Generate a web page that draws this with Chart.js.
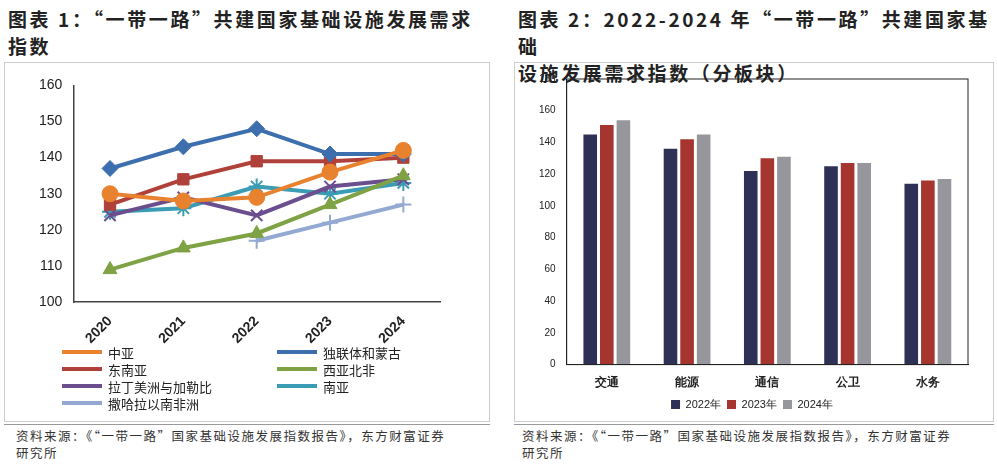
<!DOCTYPE html>
<html><head><meta charset="utf-8">
<script src="https://cdn.jsdelivr.net/npm/chart.js@4"></script>
<style>
body{margin:0;width:997px;height:464px;background:#fff;font-family:"Noto Sans CJK SC",sans-serif;position:relative;overflow:hidden}
.t{position:absolute;font-weight:bold;font-size:19px;line-height:27px;color:#222;letter-spacing:2.6px}
.src{position:absolute;font-size:12.5px;line-height:17px;color:#333;letter-spacing:1.5px}
.box{position:absolute;border:1px solid #ccc}
.hr{position:absolute;height:1px;background:#999}
#lg{position:absolute;left:62px;top:344px;width:420px;font-size:13px;color:#222}
#lg div{position:absolute;height:18px;line-height:18px;white-space:nowrap}
#lg span{display:inline-block;width:40px;height:4px;vertical-align:middle;margin-right:6px;position:relative;top:-2px}
</style></head><body>
<div class="t" style="left:8px;top:5px">图表 1：“一带一路”共建国家基础设施发展需求<br>指数</div>
<div class="t" style="left:518px;top:5px">图表 2：2022-2024 年“一带一路”共建国家基础<br>设施发展需求指数（分板块）</div>
<div class="box" style="left:4px;top:62px;width:484px;height:358px"></div>
<div class="box" style="left:514px;top:62px;width:478px;height:358px"></div>
<div class="hr" style="left:4px;top:424px;width:486px"></div>
<div class="hr" style="left:514px;top:424px;width:480px"></div>
<div class="src" style="left:16px;top:427px">资料来源：《“一带一路”国家基础设施发展指数报告》，东方财富证券<br>研究所</div>
<div class="src" style="left:522px;top:427px">资料来源：《“一带一路”国家基础设施发展指数报告》，东方财富证券<br>研究所</div>
<div style="position:absolute;left:20px;top:74px;width:440px;height:276px"><canvas id="c1"></canvas></div>
<div id="lg"></div>
<div style="position:absolute;left:520px;top:70px;width:460px;height:350px"><canvas id="c2"></canvas></div>
<script>
const years=['2020','2021','2022','2023','2024'];
const seriesNames=['中亚','独联体和蒙古','东南亚','西亚北非','拉丁美洲与加勒比','南亚','撒哈拉以南非洲'];
const zhongya=[130,128,129,136,142];
const dulianti=[137,143,148,141,141];
const dongnanya=[127,134,139,139,140];
const xiyabeifei=[109,115,119,127,135];
const lamei=[124,129,124,132,134];
const nanya=[125,126,132,130,133];
const sahala=[null,null,117,122,127];
const sectors=['交通','能源','通信','公卫','水务'];
const barYears=['2022年','2023年','2024年'];
const y2022=[145,136,122,125,114];
const y2023=[151,142,130,127,116];
const y2024=[154,145,131,127,117];

const colors=['#E8822E','#3D6FAE','#B0403A','#7FA244','#6B4E8E','#3A9DB5','#93A9D2'];
const styles=['circle','rectRot','rect','triangle','crossRot','star','cross'];
const data1=[zhongya,dulianti,dongnanya,xiyabeifei,lamei,nanya,sahala];
new Chart(document.getElementById('c1'),{type:'line',
 data:{labels:years,datasets:data1.map((d,i)=>({label:seriesNames[i],data:d,borderColor:colors[i],backgroundColor:colors[i],borderWidth:4,pointStyle:styles[i],pointRadius:8,pointBorderWidth:i>=4?2:1,tension:0}))},
 options:{animation:false,responsive:true,maintainAspectRatio:false,
  layout:{padding:{left:16,right:20}},
  plugins:{legend:{display:false},tooltip:{enabled:false}},
  scales:{x:{offset:true,grid:{display:false},border:{color:'#444',width:1.5},ticks:{color:'#222',font:{size:14,weight:'bold',family:'Liberation Sans'},maxRotation:45,minRotation:45}},
   y:{min:100,max:160,ticks:{stepSize:10,color:'#222',font:{size:14,family:'Liberation Sans'}},grid:{display:false,drawTicks:true},border:{color:'#444',width:1.5}}}}});
const lg=document.getElementById('lg');
seriesNames.forEach((n,i)=>{const d=document.createElement('div');d.style.left=(i%2?215:0)+'px';d.style.top=(Math.floor(i/2)*17)+'px';d.innerHTML='<span style="background:'+colors[i]+'"></span>'+n;lg.appendChild(d);});

new Chart(document.getElementById('c2'),{type:'bar',
 data:{labels:sectors,datasets:[{label:barYears[0],data:y2022,backgroundColor:'#2E3155'},{label:barYears[1],data:y2023,backgroundColor:'#A6342F'},{label:barYears[2],data:y2024,backgroundColor:'#96979C'}]},
 options:{animation:false,responsive:true,maintainAspectRatio:false,
  layout:{padding:{left:16,right:12,top:4}},
  datasets:{bar:{categoryPercentage:0.62,barPercentage:0.82}},
  plugins:{tooltip:{enabled:false},legend:{position:'bottom',labels:{boxWidth:9,boxHeight:9,padding:6,color:'#222',font:{size:11,family:'Liberation Sans'}}}},
  scales:{x:{grid:{display:false},border:{color:'#222',width:1},ticks:{color:'#222',font:{size:12,weight:'bold'}}},
   y:{min:0,max:180,ticks:{stepSize:20,color:'#222',font:{size:10,family:'Liberation Sans'}},grid:{display:false},border:{color:'#222'}}}},
 plugins:[{id:'frame',afterDraw(c){const a=c.chartArea,x=c.ctx;x.save();x.strokeStyle='#222';x.lineWidth=1;x.strokeRect(a.left,a.top,a.right-a.left,a.bottom-a.top);x.restore();}}]});
</script></body></html>
